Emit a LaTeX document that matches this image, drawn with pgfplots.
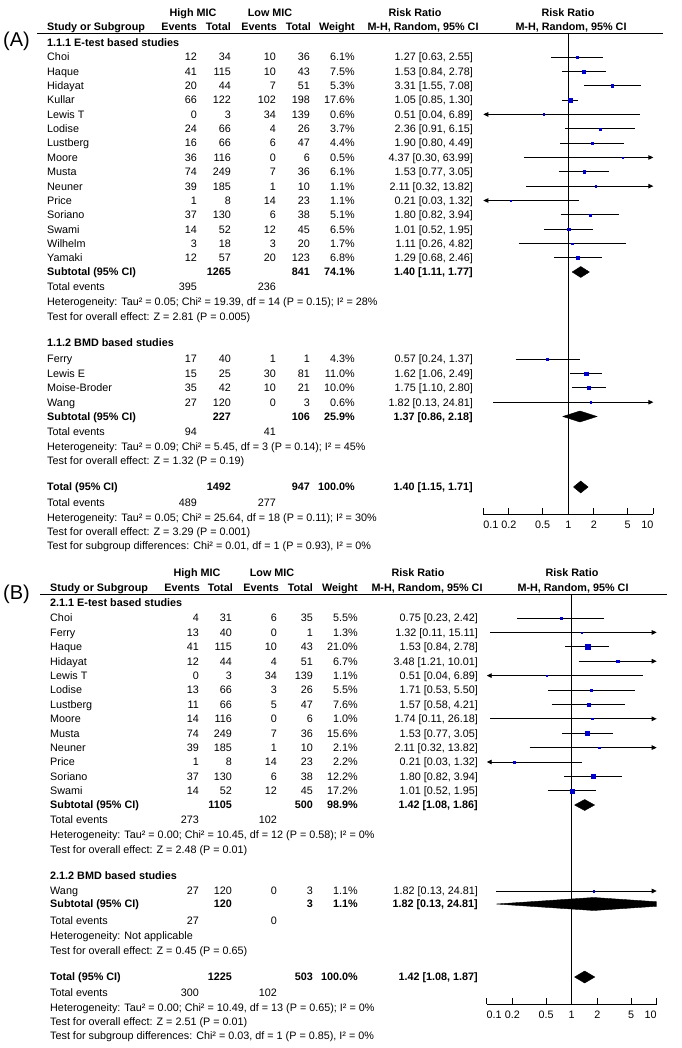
\documentclass[border=0pt]{standalone}
\usepackage{pgfplots}
\pgfplotsset{compat=1.18}
\usepackage{fontspec}
\setmainfont{Liberation Sans}
\usetikzlibrary{arrows.meta}
\definecolor{mkblue}{HTML}{0000CC}

\newcommand{\fs}{\fontsize{10.8}{13}\selectfont}
% text helpers: (x, y) are pixel positions of the line centre, y downwards
\newcommand{\Lt}[3]{\node[anchor=base west] at (#1,#2+3.9) {#3};}
\newcommand{\Rt}[3]{\node[anchor=base east] at (#1,#2+3.9) {#3};}
\newcommand{\Ct}[3]{\node[anchor=base] at (#1,#2+3.9) {#3};}
% one table row: y, name, ev1, tot1, ev2, tot2, weight, rr
\newcommand{\row}[8]{\Lt{\cS}{#1}{#2}\Rt{\cEa}{#1}{#3}\Rt{\cTa}{#1}{#4}%
  \Rt{\cEb}{#1}{#5}\Rt{\cTb}{#1}{#6}\Rt{\cW}{#1}{#7}\Rt{\cR}{#1}{#8}}

\tikzset{arL/.style={{Triangle[length=5pt,width=4.5pt]}-},
         arR/.style={-{Triangle[length=5pt,width=4.5pt]}}}
% study CI: [arrow], y, rr, lo, hi, half box size
\newcommand{\ci}[6][]{%
  \addplot[black, line width=0.9pt, #1] coordinates {(#4,-#2) (#5,-#2)};
  \addplot[only marks, mark=square*, mark size=#6, color=mkblue] coordinates {(#3,-#2)};}
% pooled diamond: y, ytop, ybottom, rr, lo, hi
\newcommand{\dia}[6]{%
  \addplot[fill=black, draw=black, line width=0.4pt]
    coordinates {(#5,#1) (#4,#2) (#6,#1) (#4,#3) (#5,#1)};}

\begin{document}
\begin{tikzpicture}[x=1pt, y=-1pt, every node/.style={inner sep=0pt, font=\fs}]
\useasboundingbox (0,0) rectangle (681,1048);

%% ---------------- panel A ----------------
\def\cS{47}\def\cEa{197}\def\cTa{231}\def\cEb{276}\def\cTb{310}\def\cW{355}\def\cR{473}
\node[anchor=base west, font=\fontsize{20}{24}\selectfont] at (3,47) {(A)};
\Ct{193}{13}{\textbf{High MIC}}\Ct{270}{13}{\textbf{Low MIC}}
\Ct{415}{13}{\textbf{Risk Ratio}}\Ct{568}{13}{\textbf{Risk Ratio}}
\Lt{47}{27}{\textbf{Study or Subgroup}}
\Rt{197}{27}{\textbf{Events}}\Rt{231}{27}{\textbf{Total}}
\Rt{277}{27}{\textbf{Events}}\Rt{311}{27}{\textbf{Total}}
\Rt{355}{27}{\textbf{Weight}}
\Ct{423}{27}{\textbf{M-H, Random, 95\% CI}}\Ct{571}{27}{\textbf{M-H, Random, 95\% CI}}
\draw[line width=0.9pt] (37,33) -- (663,33);
\Lt{47}{43}{\textbf{1.1.1 E-test based studies}}
\row{57}{Choi}{12}{34}{10}{36}{6.1\%}{1.27 [0.63, 2.55]}
\row{71.35}{Haque}{41}{115}{10}{43}{7.5\%}{1.53 [0.84, 2.78]}
\row{85.7}{Hidayat}{20}{44}{7}{51}{5.3\%}{3.31 [1.55, 7.08]}
\row{100.05}{Kullar}{66}{122}{102}{198}{17.6\%}{1.05 [0.85, 1.30]}
\row{114.4}{Lewis T}{0}{3}{34}{139}{0.6\%}{0.51 [0.04, 6.89]}
\row{128.75}{Lodise}{24}{66}{4}{26}{3.7\%}{2.36 [0.91, 6.15]}
\row{143.1}{Lustberg}{16}{66}{6}{47}{4.4\%}{1.90 [0.80, 4.49]}
\row{157.45}{Moore}{36}{116}{0}{6}{0.5\%}{4.37 [0.30, 63.99]}
\row{171.8}{Musta}{74}{249}{7}{36}{6.1\%}{1.53 [0.77, 3.05]}
\row{186.15}{Neuner}{39}{185}{1}{10}{1.1\%}{2.11 [0.32, 13.82]}
\row{200.5}{Price}{1}{8}{14}{23}{1.1\%}{0.21 [0.03, 1.32]}
\row{214.85}{Soriano}{37}{130}{6}{38}{5.1\%}{1.80 [0.82, 3.94]}
\row{229.2}{Swami}{14}{52}{12}{45}{6.5\%}{1.01 [0.52, 1.95]}
\row{243.55}{Wilhelm}{3}{18}{3}{20}{1.7\%}{1.11 [0.26, 4.82]}
\row{257.9}{Yamaki}{12}{57}{20}{123}{6.8\%}{1.29 [0.68, 2.46]}
\row{272}{\textbf{Subtotal (95\% CI)}}{}{\textbf{1265}}{}{\textbf{841}}{\textbf{74.1\%}}{\textbf{1.40 [1.11, 1.77]}}
\Lt{47}{287}{Total events}\Rt{197}{287}{395}\Rt{276}{287}{236}
\Lt{47}{302}{Heterogeneity: Tau² = 0.05; Chi² = 19.39, df = 14 (P = 0.15); I² = 28\%}
\Lt{47}{317}{Test for overall effect: Z = 2.81 (P = 0.005)}
\Lt{47}{343}{\textbf{1.1.2 BMD based studies}}
\row{359}{Ferry}{17}{40}{1}{1}{4.3\%}{0.57 [0.24, 1.37]}
\row{373.4}{Lewis E}{15}{25}{30}{81}{11.0\%}{1.62 [1.06, 2.49]}
\row{387.8}{Moise-Broder}{35}{42}{10}{21}{10.0\%}{1.75 [1.10, 2.80]}
\row{402.2}{Wang}{27}{120}{0}{3}{0.6\%}{1.82 [0.13, 24.81]}
\row{416.5}{\textbf{Subtotal (95\% CI)}}{}{\textbf{227}}{}{\textbf{106}}{\textbf{25.9\%}}{\textbf{1.37 [0.86, 2.18]}}
\Lt{47}{432}{Total events}\Rt{197}{432}{94}\Rt{276}{432}{41}
\Lt{47}{447}{Heterogeneity: Tau² = 0.09; Chi² = 5.45, df = 3 (P = 0.14); I² = 45\%}
\Lt{47}{461}{Test for overall effect: Z = 1.32 (P = 0.19)}
\row{487}{\textbf{Total (95\% CI)}}{}{\textbf{1492}}{}{\textbf{947}}{\textbf{100.0\%}}{\textbf{1.40 [1.15, 1.71]}}
\Lt{47}{503}{Total events}\Rt{197}{503}{489}\Rt{276}{503}{277}
\Lt{47}{518}{Heterogeneity: Tau² = 0.05; Chi² = 25.64, df = 18 (P = 0.11); I² = 30\%}
\Lt{47}{532}{Test for overall effect: Z = 3.29 (P = 0.001)}
\Lt{47}{546}{Test for subgroup differences: Chi² = 0.01, df = 1 (P = 0.93), I² = 0\%}

\begin{axis}[at={(483.3pt,-514pt)}, anchor=south west,
  scale only axis, width=170pt, height=481pt,
  xmode=log, xmin=0.1, xmax=10, ymin=-514, ymax=-33,
  enlargelimits=false, axis x line*=bottom, axis y line=none,
  axis line style={black, line width=0.8pt},
  xtick={0.1,0.2,0.5,1,2,5,10},
  xticklabels={\phantom{0.1}0.1,0.2,0.5,1,2,5,10\phantom{10}},
  minor xtick={}, tick align=inside, major tick length=6pt,
  tick style={black, line width=0.8pt},
  xticklabel style={font=\fs, inner sep=0pt, yshift=-7pt}]
\addplot[black, line width=0.9pt] coordinates {(1,-33) (1,-514)};
\ci{57}{1.27}{0.63}{2.55}{1.25}
\ci{71.35}{1.53}{0.84}{2.78}{1.37}
\ci{85.7}{3.31}{1.55}{7.08}{1.15}
\ci{100.05}{1.05}{0.85}{1.30}{2.1}
\ci[arL]{114.4}{0.51}{0.1}{6.89}{0.7}
\ci{128.75}{2.36}{0.91}{6.15}{0.96}
\ci{143.1}{1.90}{0.80}{4.49}{1.05}
\ci[arR]{157.45}{4.37}{0.30}{10}{0.7}
\ci{171.8}{1.53}{0.77}{3.05}{1.25}
\ci[arR]{186.15}{2.11}{0.32}{10}{0.7}
\ci[arL]{200.5}{0.21}{0.1}{1.32}{0.7}
\ci{214.85}{1.80}{0.82}{3.94}{1.13}
\ci{229.2}{1.01}{0.52}{1.95}{1.27}
\ci{243.55}{1.11}{0.26}{4.82}{0.7}
\ci{257.9}{1.29}{0.68}{2.46}{1.3}
\dia{-272}{-266.5}{-277.5}{1.40}{1.11}{1.77}
\ci{359}{0.57}{0.24}{1.37}{1.04}
\ci{373.4}{1.62}{1.06}{2.49}{1.66}
\ci{387.8}{1.75}{1.10}{2.80}{1.58}
\ci[arR]{402.2}{1.82}{0.13}{10}{0.7}
\dia{-416.5}{-411}{-422}{1.37}{0.86}{2.18}
\dia{-487}{-481}{-493}{1.40}{1.15}{1.71}
\end{axis}

%% ---------------- panel B ----------------
\def\cS{50}\def\cEa{199}\def\cTa{232}\def\cEb{277}\def\cTb{313}\def\cW{358}\def\cR{478}
\node[anchor=base west, font=\fontsize{20}{24}\selectfont] at (3,599) {(B)};
\Ct{197}{573}{\textbf{High MIC}}\Ct{272}{573}{\textbf{Low MIC}}
\Ct{418}{573}{\textbf{Risk Ratio}}\Ct{572}{573}{\textbf{Risk Ratio}}
\Lt{50}{588}{\textbf{Study or Subgroup}}
\Rt{200}{588}{\textbf{Events}}\Rt{233}{588}{\textbf{Total}}
\Rt{279}{588}{\textbf{Events}}\Rt{313}{588}{\textbf{Total}}
\Rt{358}{588}{\textbf{Weight}}
\Ct{427}{588}{\textbf{M-H, Random, 95\% CI}}\Ct{573}{588}{\textbf{M-H, Random, 95\% CI}}
\draw[line width=0.9pt] (40,594) -- (667,594);
\Lt{50}{603}{\textbf{2.1.1 E-test based studies}}
\row{618}{Choi}{4}{31}{6}{35}{5.5\%}{0.75 [0.23, 2.42]}
\row{632.4}{Ferry}{13}{40}{0}{1}{1.3\%}{1.32 [0.11, 15.11]}
\row{646.8}{Haque}{41}{115}{10}{43}{21.0\%}{1.53 [0.84, 2.78]}
\row{661.2}{Hidayat}{12}{44}{4}{51}{6.7\%}{3.48 [1.21, 10.01]}
\row{675.6}{Lewis T}{0}{3}{34}{139}{1.1\%}{0.51 [0.04, 6.89]}
\row{690}{Lodise}{13}{66}{3}{26}{5.5\%}{1.71 [0.53, 5.50]}
\row{704.4}{Lustberg}{11}{66}{5}{47}{7.6\%}{1.57 [0.58, 4.21]}
\row{718.8}{Moore}{14}{116}{0}{6}{1.0\%}{1.74 [0.11, 26.18]}
\row{733.2}{Musta}{74}{249}{7}{36}{15.6\%}{1.53 [0.77, 3.05]}
\row{747.6}{Neuner}{39}{185}{1}{10}{2.1\%}{2.11 [0.32, 13.82]}
\row{762}{Price}{1}{8}{14}{23}{2.2\%}{0.21 [0.03, 1.32]}
\row{776.4}{Soriano}{37}{130}{6}{38}{12.2\%}{1.80 [0.82, 3.94]}
\row{790.8}{Swami}{14}{52}{12}{45}{17.2\%}{1.01 [0.52, 1.95]}
\row{805}{\textbf{Subtotal (95\% CI)}}{}{\textbf{1105}}{}{\textbf{500}}{\textbf{98.9\%}}{\textbf{1.42 [1.08, 1.86]}}
\Lt{50}{820}{Total events}\Rt{199}{820}{273}\Rt{277}{820}{102}
\Lt{50}{835}{Heterogeneity: Tau² = 0.00; Chi² = 10.45, df = 12 (P = 0.58); I² = 0\%}
\Lt{50}{850}{Test for overall effect: Z = 2.48 (P = 0.01)}
\Lt{50}{876}{\textbf{2.1.2 BMD based studies}}
\row{891}{Wang}{27}{120}{0}{3}{1.1\%}{1.82 [0.13, 24.81]}
\row{904}{\textbf{Subtotal (95\% CI)}}{}{\textbf{120}}{}{\textbf{3}}{\textbf{1.1\%}}{\textbf{1.82 [0.13, 24.81]}}
\Lt{50}{921}{Total events}\Rt{199}{921}{27}\Rt{277}{921}{0}
\Lt{50}{936}{Heterogeneity: Not applicable}
\Lt{50}{951}{Test for overall effect: Z = 0.45 (P = 0.65)}
\row{977}{\textbf{Total (95\% CI)}}{}{\textbf{1225}}{}{\textbf{503}}{\textbf{100.0\%}}{\textbf{1.42 [1.08, 1.87]}}
\Lt{50}{993}{Total events}\Rt{199}{993}{300}\Rt{277}{993}{102}
\Lt{50}{1008}{Heterogeneity: Tau² = 0.00; Chi² = 10.49, df = 13 (P = 0.65); I² = 0\%}
\Lt{50}{1022}{Test for overall effect: Z = 2.51 (P = 0.01)}
\Lt{50}{1036}{Test for subgroup differences: Chi² = 0.03, df = 1 (P = 0.85), I² = 0\%}

\begin{axis}[at={(486.7pt,-1004pt)}, anchor=south west,
  scale only axis, width=170pt, height=410pt,
  xmode=log, xmin=0.1, xmax=10, ymin=-1004, ymax=-594,
  enlargelimits=false, axis x line*=bottom, axis y line=none,
  axis line style={black, line width=0.8pt},
  xtick={0.1,0.2,0.5,1,2,5,10},
  xticklabels={\phantom{0.1}0.1,0.2,0.5,1,2,5,10\phantom{10}},
  minor xtick={}, tick align=inside, major tick length=6pt,
  tick style={black, line width=0.8pt},
  xticklabel style={font=\fs, inner sep=0pt, yshift=-7pt}]
\addplot[black, line width=0.9pt] coordinates {(1,-594) (1,-1004)};
\ci{618}{0.75}{0.23}{2.42}{1.17}
\ci[arR]{632.4}{1.32}{0.11}{10}{0.7}
\ci{646.8}{1.53}{0.84}{2.78}{2.3}
\ci[arR]{661.2}{3.48}{1.21}{10}{1.3}
\ci[arL]{675.6}{0.51}{0.1}{6.89}{0.7}
\ci{690}{1.71}{0.53}{5.50}{1.17}
\ci{704.4}{1.57}{0.58}{4.21}{1.38}
\ci[arR]{718.8}{1.74}{0.11}{10}{0.7}
\ci{733.2}{1.53}{0.77}{3.05}{1.97}
\ci[arR]{747.6}{2.11}{0.32}{10}{0.73}
\ci[arL]{762}{0.21}{0.1}{1.32}{0.74}
\ci{776.4}{1.80}{0.82}{3.94}{1.75}
\ci{790.8}{1.01}{0.52}{1.95}{2.07}
\dia{-805}{-799.5}{-810.5}{1.42}{1.08}{1.86}
\ci[arR]{891}{1.82}{0.13}{10}{0.7}
\dia{-904}{-897.5}{-910.5}{1.82}{0.13}{24.81}
\dia{-977}{-971}{-983}{1.42}{1.08}{1.87}
\end{axis}
\end{tikzpicture}
\end{document}
